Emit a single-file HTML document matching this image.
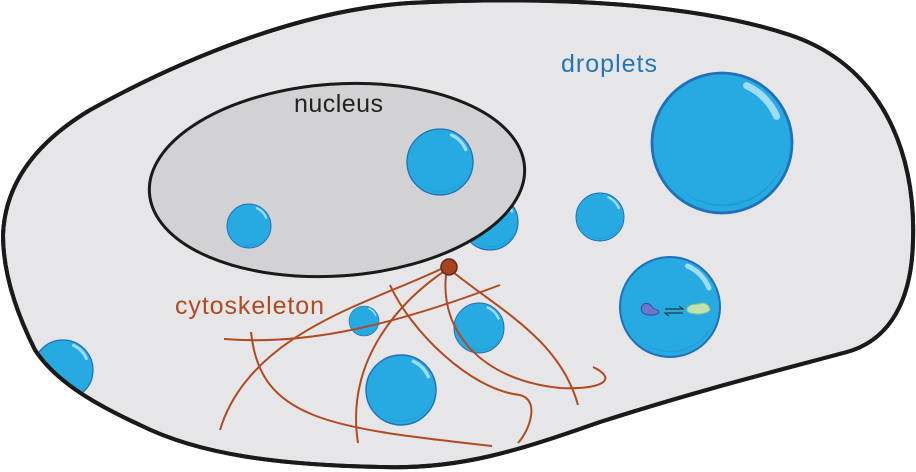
<!DOCTYPE html><html><head><style>body{margin:0;background:#fff}svg{display:block}</style></head><body>
<svg width="916" height="472" viewBox="0 0 916 472" xmlns="http://www.w3.org/2000/svg">
<defs>
<g id="d"><circle r="1" fill="#27a9e1" stroke="#1f6fba" stroke-width="0.04"/><path d="M-0.55,0.7 A0.9,0.9 0 0 0 0.85,0.35 A0.95,0.95 0 0 1 -0.55,0.7Z" fill="#1e95c8" opacity="0.6"/><path d="M0.35,-0.82 A0.85,0.85 0 0 1 0.78,-0.38" stroke="#9fdcf5" stroke-width="0.1" fill="none" stroke-linecap="round"/></g>
<path id="cell" d="M3,235 C5,180 40,140 90,110 C180,60 300,10 409,3 C560,-5 700,5 790,35 C880,65 916,150 913,240 C912,300 890,340 847,352 C780,370 700,390 600,422 C520,450 460,470 380,467 C280,465 200,455 140,425 C90,402 55,380 35,350 C15,310 3,270 3,235Z"/>
</defs>
<use href="#cell" fill="#e6e6e8" stroke="#1a1a1a" stroke-width="4"/>
<clipPath id="c"><use href="#cell"/></clipPath>
<use href="#d" transform="translate(490,222) scale(28)"/>
<ellipse cx="337" cy="180" rx="188" ry="96" transform="rotate(-4 337 180)" fill="#d2d2d4" stroke="#1a1a1a" stroke-width="3"/>
<use href="#d" transform="translate(440,162) scale(33)"/>
<use href="#d" transform="translate(249,226) scale(22)"/>
<use href="#d" transform="translate(600,217) scale(24)"/>
<use href="#d" transform="translate(722,143) scale(70)"/>
<use href="#d" transform="translate(670,307) scale(50)"/>
<use href="#d" transform="translate(364,321) scale(15)"/>
<use href="#d" transform="translate(479,328) scale(25)"/>
<use href="#d" transform="translate(401,390) scale(35)"/>
<g clip-path="url(#c)"><use href="#d" transform="translate(63,370) scale(30)"/></g>
<use href="#cell" fill="none" stroke="#1a1a1a" stroke-width="4"/>
<path d="M642,306 c2,-4 8,-3 10,1 c2,3 6,2 7,5 c-2,4 -12,4 -16,1 c-2,-2 -2,-5 -1,-7Z" fill="#6a78c8" stroke="#3b4aa0" stroke-width="1"/>
<path d="M688,307 c4,-4 10,-2 14,-4 c4,0 8,3 8,7 c-3,4 -12,5 -20,3 c-3,-1 -4,-4 -2,-6Z" fill="#bfe3b0" stroke="#8ec08a" stroke-width="1"/>
<path d="M665,309 h18 l-4,-3 M683,313 h-18 l4,3" stroke="#222" stroke-width="1" fill="none"/>
<g stroke="#b04a20" stroke-width="2" fill="none">
<path d="M445,267 C380,300 250,330 220,430"/>
<path d="M449,268 C400,300 345,360 358,443"/>
<path d="M446,275 C440,330 480,380 560,388 C600,390 620,380 593,367"/>
<path d="M453,272 C500,310 560,340 578,405"/>
<path d="M390,285 C410,330 470,390 520,395 C540,400 530,430 518,443"/>
<path d="M224,339 C300,345 380,330 500,285"/>
<path d="M251,332 C260,420 330,428 492,446"/>
</g>
<circle cx="449" cy="267" r="8" fill="#a9421f" stroke="#5a2a18" stroke-width="1.5"/>
<text x="294" y="112" font-family="Liberation Sans, sans-serif" font-size="25" fill="#222" textLength="89">nucleus</text>
<text x="561" y="72" font-family="Liberation Sans, sans-serif" font-size="25" fill="#2277bb" textLength="96">droplets</text>
<text x="175" y="314" font-family="Liberation Sans, sans-serif" font-size="25" fill="#b04a20" textLength="149">cytoskeleton</text>
</svg>
</body></html>
